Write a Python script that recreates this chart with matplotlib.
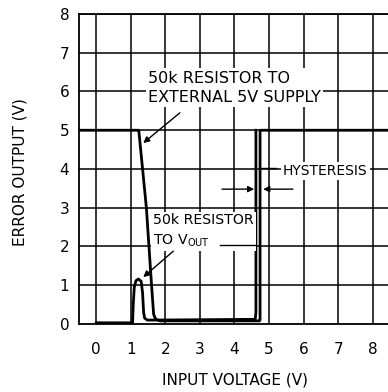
import matplotlib
matplotlib.use('Agg')
import matplotlib.pyplot as plt

# --数据
ext_x = [-0.5, 1.23, 1.45, 1.6, 1.66, 1.72, 1.85, 4.72, 4.74, 4.74, 8.5]
ext_y = [5.0, 5.0, 3.0, 1.0, 0.25, 0.12, 0.08, 0.08, 0.1, 5.0, 5.0]

vout_x = [0.0, 1.05, 1.07, 1.1, 1.15, 1.22, 1.3, 1.34, 1.37, 1.4, 1.48, 4.6, 4.62, 4.62]
vout_y = [0.03, 0.03, 0.5, 0.95, 1.12, 1.16, 1.1, 0.8, 0.3, 0.15, 0.1, 0.12, 0.3, 5.0]

x_ticks = [0, 1, 2, 3, 4, 5, 6, 7, 8]
y_ticks = [0, 1, 2, 3, 4, 5, 6, 7, 8]

plt.rcParams['font.family'] = ['DejaVu Sans']

fig = plt.figure(figsize=(3.88, 3.92), dpi=100)
ax = fig.add_axes([0.2036, 0.1735, 0.8015, 0.7908])
ax.set_xlim(-0.5, 8.5)
ax.set_ylim(0, 8)

# --网格
for xv in x_ticks:
    ax.axvline(xv, color='black', lw=1.1, zorder=1)
for yv in y_ticks[1:]:
    ax.axhline(yv, color='black', lw=1.1, zorder=1)

for s in ['left', 'bottom', 'top']:
    ax.spines[s].set_linewidth(1.3)
ax.spines['right'].set_visible(False)

ax.set_xticks(x_ticks)
ax.set_yticks(y_ticks)
ax.tick_params(length=0, labelsize=11)
ax.tick_params(axis='x', pad=13)
ax.tick_params(axis='y', pad=7)

# --曲线
ax.plot(ext_x, ext_y, color='black', lw=2.0, zorder=3, solid_joinstyle='round')
ax.plot(vout_x, vout_y, color='black', lw=2.0, zorder=3, solid_joinstyle='round')

# --标注
box = dict(facecolor='white', edgecolor='none', pad=1.5)
arrow = dict(arrowstyle='-|>', color='black', lw=1.0, mutation_scale=9, shrinkA=0, shrinkB=0)
ax.text(1.5, 6.1, '50k RESISTOR TO\nEXTERNAL 5V SUPPLY', fontsize=11.5, ha='left', va='center',
        linespacing=1.35, bbox=box, zorder=4)
ax.annotate('', xy=(1.36, 4.67), xytext=(2.42, 5.45), arrowprops=arrow, zorder=5)

ax.text(1.65, 2.4, '50k RESISTOR\nTO V$_{\\rm OUT}$', fontsize=10.2, ha='left', va='center',
        linespacing=1.45, bbox=box, zorder=4)
ax.plot([3.58, 4.6], [2.04, 2.04], color='black', lw=1.0, zorder=4)
ax.annotate('', xy=(1.36, 1.21), xytext=(2.23, 1.88), arrowprops=arrow, zorder=5)

ax.text(5.4, 3.95, 'HYSTERESIS', fontsize=10, ha='left', va='center', bbox=box, zorder=4)
ax.plot([4.74, 5.2], [4.03, 4.03], color='black', lw=1.0, zorder=4)
ax.annotate('', xy=(4.57, 3.48), xytext=(3.64, 3.48), arrowprops=arrow, zorder=5)
ax.annotate('', xy=(4.83, 3.48), xytext=(5.69, 3.48), arrowprops=arrow, zorder=5)

fig.text(0.052, 0.56, 'ERROR OUTPUT (V)', rotation=90, fontsize=11, ha='center', va='center')
fig.text(0.605, 0.03, 'INPUT VOLTAGE (V)', fontsize=11, ha='center', va='center')

fig.savefig('out.png', dpi=100)
